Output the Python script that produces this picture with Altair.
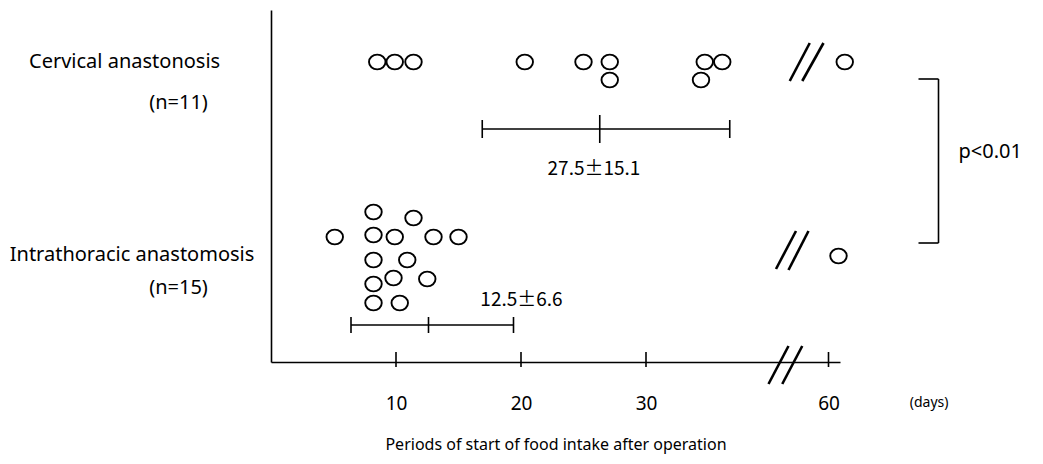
import altair as alt
import pandas as pd

# ---------------- data ----------------
# days after operation (values > 45 are drawn after the axis break)
cervical_days = [8.5, 9.9, 11.4, 20.3, 25.0, 27.1, 27.1, 34.7, 34.4, 36.1, 61.3]
cervical_rows = [300, 300, 300, 300, 300, 300, 282, 300, 282, 300, 300]
intra_days = [8.2, 11.4, 5.1, 8.2, 9.9, 13.0, 15.0, 8.2, 10.9, 9.8, 12.5, 8.2, 8.2, 10.3, 60.8]
intra_rows = [150, 144, 125, 127, 125, 125, 125, 102, 102, 84, 83, 78, 59, 59, 106]

# mean +- SD bars as drawn
bar_groups = ["Cervical", "Intrathoracic"]
bar_lo = [16.9, 6.4]
bar_mid = [26.3, 12.6]
bar_hi = [36.7, 19.4]
bar_row = [233, 37]
bar_end_half = [9, 8]
bar_mid_half = [14, 8]
bar_texts = ["27.5\u00b115.1", "12.5\u00b16.6"]
bar_text_x = [25.84, 20.04]
bar_text_y = [193, 62]

tick_days = [10, 20, 30, 60]
BREAK_SHIFT = 15.4  # 60 days drawn at 44.6 on the compressed axis

FONT = "Noto Sans"
FONT_JP = "Noto Sans CJK JP"

# ---------------- tables ----------------
pts = pd.DataFrame({
    "day": cervical_days + intra_days,
    "row": cervical_rows + intra_rows,
    "group": ["Cervical"] * len(cervical_days) + ["Intrathoracic"] * len(intra_days),
})

bars = pd.DataFrame({"group": bar_groups, "lo": bar_lo, "mid": bar_mid, "hi": bar_hi,
                     "row": bar_row})
bar_ticks = []
for g, lo, mid, hi, r, eh, mh in zip(bar_groups, bar_lo, bar_mid, bar_hi, bar_row,
                                     bar_end_half, bar_mid_half):
    for xv, h in ((lo, eh), (mid, mh), (hi, eh)):
        bar_ticks.append({"x": xv, "y": r - h, "y2": r + h})
bar_ticks = pd.DataFrame(bar_ticks)

bar_labels = pd.DataFrame({"x": bar_text_x, "y": bar_text_y, "t": bar_texts})

axis_ticks = pd.DataFrame({"day": tick_days})
axis_ticks["pos"] = [d if d < 45 else d - BREAK_SHIFT for d in tick_days]

# axis-break slashes and significance bracket (decorations)
slashes = pd.DataFrame({
    "x": [41.5, 42.5, 40.4, 41.4, 39.8, 40.9],
    "y": [281, 281, 93, 92, -22, -22],
    "x2": [43.1, 44.2, 42.0, 43.0, 41.4, 42.5],
    "y2": [319, 319, 131, 131, 16, 16],
})
bracket = pd.DataFrame({
    "x": [51.8, 53.4, 51.8],
    "x2": [53.4, 53.4, 53.4],
    "y": [283, 283, 119],
    "y2": [283, 119, 119],
})

labels_big = pd.DataFrame({
    "x": [-19.36, -7.4, -20.9, -7.4, 55.0],
    "y": [300, 259, 107, 74, 210],
    "t": ["Cervical anastonosis", "(n=11)", "Intrathoracic anastomosis", "(n=15)", "p<0.01"],
    "align": ["left", "center", "left", "center", "left"],
})
days_label = pd.DataFrame({"x": [51.1], "y": [-41], "t": ["(days)"]})

# ---------------- chart ----------------
xscale = alt.Scale(domain=[0, 45.52], nice=False, zero=False)
yscale = alt.Scale(domain=[0, 352], nice=False, zero=False)

x_axis = alt.Axis(values=[10, 20, 30, 44.6],
                  labelExpr="datum.value > 40 ? '60' : datum.label",
                  ticks=False, tickSize=0, grid=False, domain=True,
                  domainColor="black", domainWidth=1.6,
                  labelFont=FONT, labelFontSize=19, labelColor="black",
                  labelPadding=32, labelFlush=False,
                  title="Periods of start of food intake after operation",
                  titleFont=FONT, titleFontSize=16, titleFontWeight="normal",
                  titleColor="black", titlePadding=23)
y_axis = alt.Axis(labels=False, ticks=False, grid=False, domain=True,
                  domainColor="black", domainWidth=1.6, title=None)

ellipse = "M-1,0A1,0.9,0,1,1,1,0A1,0.9,0,1,1,-1,0Z"

points = alt.Chart(pts).transform_calculate(
    pos=f"datum.day > 45 ? datum.day - {BREAK_SHIFT} : datum.day"
).mark_point(shape=ellipse, filled=False, color="black", strokeWidth=1.9,
             size=272, opacity=1).encode(
    x=alt.X("pos:Q", scale=xscale, axis=x_axis),
    y=alt.Y("row:Q", scale=yscale, axis=y_axis),
)

bar_lines = alt.Chart(bars).mark_rule(color="black", strokeWidth=1.6).encode(
    x="lo:Q", x2="hi:Q", y="row:Q")
bar_tick_marks = alt.Chart(bar_ticks).mark_rule(color="black", strokeWidth=1.6).encode(
    x="x:Q", y="y:Q", y2="y2:Q")
bar_text = alt.Chart(bar_labels).mark_text(font=FONT_JP, fontSize=19, color="black",
                                           align="center", baseline="middle").encode(
    x="x:Q", y="y:Q", text="t:N")

ax_ticks = alt.Chart(axis_ticks).mark_rule(color="black", strokeWidth=1.6).encode(
    x="pos:Q", y=alt.datum(-5), y2=alt.datum(10))

slash_marks = alt.Chart(slashes).mark_rule(color="black", strokeWidth=2.6).encode(
    x="x:Q", y="y:Q", x2="x2:Q", y2="y2:Q")
bracket_marks = alt.Chart(bracket).mark_rule(color="black", strokeWidth=1.6).encode(
    x="x:Q", y="y:Q", x2="x2:Q", y2="y2:Q")

big_text_left = alt.Chart(labels_big).transform_filter("datum.align == 'left'").mark_text(
    font=FONT, fontSize=20, color="black", align="left", baseline="middle").encode(
    x="x:Q", y="y:Q", text="t:N")
big_text_center = alt.Chart(labels_big).transform_filter("datum.align == 'center'").mark_text(
    font=FONT, fontSize=20, color="black", align="center", baseline="middle").encode(
    x="x:Q", y="y:Q", text="t:N")
days_text = alt.Chart(days_label).mark_text(
    font=FONT, fontSize=14, color="black", align="left", baseline="middle").encode(
    x="x:Q", y="y:Q", text="t:N")

chart = alt.layer(
    points, bar_lines, bar_tick_marks, bar_text, ax_ticks, slash_marks,
    bracket_marks, big_text_left, big_text_center, days_text,
).properties(
    width=569, height=352,
    autosize=alt.AutoSizeParams(type="none"),
    padding={"left": 263, "top": 2, "right": 195, "bottom": 94},
    background="white",
).configure_view(stroke=None)

chart.save("out.html", embed_options={"renderer": "svg", "actions": False})
